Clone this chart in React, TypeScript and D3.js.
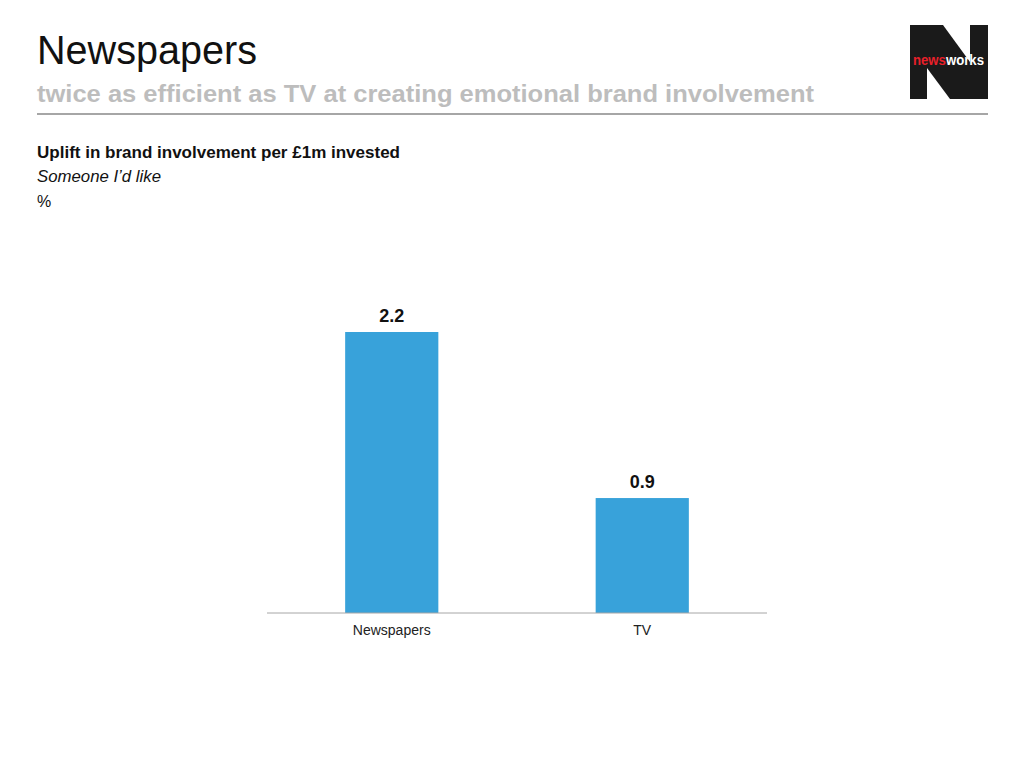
import * as React from 'react';
import * as d3 from 'd3';

const categories: string[] = ['Newspapers', 'TV'];
const values: number[] = [2.2, 0.9];
const valueLabels: string[] = ['2.2', '0.9'];

const title = 'Newspapers';
const subtitle = 'twice as efficient as TV at creating emotional brand involvement';
const chartTitle = 'Uplift in brand involvement per £1m invested';
const chartNote = 'Someone I\u2019d like';
const unitLabel = '%';

const FONT = '"Liberation Sans", Arial, Helvetica, sans-serif';

const App: React.FC = () => {
    const width = 1024;
    const height = 768;
    const plot = { left: 267, right: 767, base: 613, top: 332 };

    const xScale = d3.scaleBand<string>()
        .domain(categories)
        .range([plot.left, plot.right])
        .paddingInner(0.628)
        .paddingOuter(0.312);

    const yScale = d3.scaleLinear()
        .domain([0, d3.max(values)!])
        .range([plot.base, plot.top]);

    return (
        <svg width={width} height={height}
            style={{ position: 'absolute', left: 0, top: 0, fontFamily: FONT }}>
            <rect width={width} height={height} fill="#fff" />

            {/* header */}
            <text x={37} y={64} fontSize={40} fill="#111"
                textLength={220} lengthAdjust="spacingAndGlyphs">{title}</text>
            <text x={37} y={102} fontSize={23} fontWeight="bold" fill="#bdbdbd"
                textLength={777} lengthAdjust="spacingAndGlyphs">{subtitle}</text>
            <line x1={37} x2={988} y1={114} y2={114} stroke="#a6a6a6" strokeWidth={2} />

            {/* logo */}
            <g>
                <rect x={910} y={25} width={78} height={74} fill="#1a1a1a" />
                <polygon points="943,25 970,25 970,62" fill="#fff" />
                <polygon points="927,99 950,99 927,68" fill="#fff" />
                <text x={913} y={65} fontSize={14} fontWeight="bold"
                    textLength={71} lengthAdjust="spacingAndGlyphs">
                    <tspan fill="#e8202a">news</tspan><tspan fill="#fff">works</tspan>
                </text>
            </g>

            {/* chart titles */}
            <text x={37} y={158} fontSize={16} fontWeight="bold" fill="#111"
                textLength={363} lengthAdjust="spacingAndGlyphs">{chartTitle}</text>
            <text x={37} y={182} fontSize={16} fontStyle="italic" fill="#111"
                textLength={124} lengthAdjust="spacingAndGlyphs">{chartNote}</text>
            <text x={37} y={207} fontSize={16} fill="#111">{unitLabel}</text>

            {/* bars */}
            {categories.map((c, i) => (
                <g key={c}>
                    <rect
                        x={xScale(c)!}
                        y={yScale(values[i])}
                        width={xScale.bandwidth()}
                        height={plot.base - yScale(values[i])}
                        fill="#38a2da"
                    />
                    <text
                        x={xScale(c)! + xScale.bandwidth() / 2}
                        y={yScale(values[i]) - 10}
                        textAnchor="middle"
                        fontSize={18}
                        fontWeight="bold"
                        fill="#111"
                    >{valueLabels[i]}</text>
                    <text
                        x={xScale(c)! + xScale.bandwidth() / 2}
                        y={plot.base + 22}
                        textAnchor="middle"
                        fontSize={14}
                        fill="#222"
                    >{c}</text>
                </g>
            ))}

            {/* baseline */}
            <line x1={plot.left} x2={plot.right} y1={plot.base} y2={plot.base}
                stroke="#a6a6a6" strokeWidth={1} />
        </svg>
    );
};

export default App;
